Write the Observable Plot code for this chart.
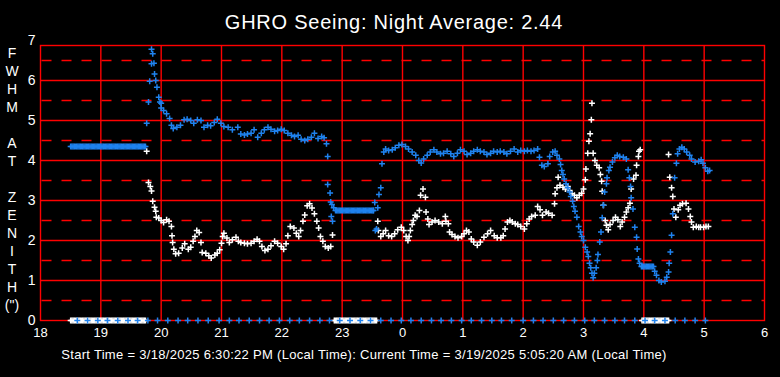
<!DOCTYPE html>
<html><head><meta charset="utf-8">
<script src="https://cdn.jsdelivr.net/npm/d3@7"></script>
<script src="https://cdn.jsdelivr.net/npm/@observablehq/plot@0.6"></script>
<style>
html,body{margin:0;padding:0;background:#000;}
#wrap{position:relative;width:780px;height:377px;overflow:hidden;background:#000;font-family:"Liberation Sans",Arial,sans-serif;color:#fff;}
#chart{position:absolute;left:0;top:0;}
#title{position:absolute;left:0;width:788px;top:11px;text-align:center;font-size:20px;letter-spacing:0.75px;line-height:22px;white-space:nowrap;}
#ylab{position:absolute;left:0;width:24px;top:44px;text-align:center;font-size:14px;line-height:18px;}
#caption{position:absolute;left:0;width:728px;top:347px;text-align:center;font-size:13px;letter-spacing:0.3px;line-height:15px;white-space:nowrap;}
</style></head><body>
<div id="wrap">
<div id="chart"></div>
<div id="title">GHRO Seeing: Night Average: 2.44</div>
<div id="ylab">F<br>W<br>H<br>M<br>&nbsp;<br>A<br>T<br>&nbsp;<br>Z<br>E<br>N<br>I<br>T<br>H<br>(")</div>
<div id="caption">Start Time = 3/18/2025 6:30:22 PM (Local Time): Current Time = 3/19/2025 5:05:20 AM (Local Time)</div>
</div>
<script>
// hours after 18:00 on 3/18 (values past 24 are the next morning)
const hourTicks = [18,19,20,21,22,23,24,25,26,27,28,29,30];
const hourGrid = [19,20,21,22,23,24,25,26,27,28,29];
const fwhmTicks = [0,1,2,3,4,5,6,7];
const fwhmLevels = [1,2,3,4,5,6];
const fwhmHalfLevels = [0.5,1.5,2.5,3.5,4.5,5.5,6.5];

// blue series [hour, FWHM]
const bluePts = [
[18.50,4.35],[18.54,4.35],[18.58,4.35],[18.62,4.35],[18.66,4.35],[18.70,4.35],[18.74,4.35],[18.78,4.35],
[18.82,4.35],[18.86,4.35],[18.90,4.35],[18.94,4.35],[18.98,4.35],[19.02,4.35],[19.06,4.35],[19.10,4.35],
[19.14,4.35],[19.18,4.35],[19.22,4.35],[19.26,4.35],[19.30,4.35],[19.34,4.35],[19.38,4.35],[19.42,4.35],
[19.46,4.35],[19.50,4.35],[19.54,4.35],[19.58,4.35],[19.62,4.35],[19.66,4.35],[19.70,4.35],[19.74,4.35],
[18.52,4.35],[18.56,4.35],[18.60,4.35],[18.64,4.35],[18.68,4.35],[18.72,4.35],[18.76,4.35],[18.80,4.35],
[18.84,4.35],[18.88,4.35],[18.92,4.35],[18.96,4.35],[19.00,4.35],[19.04,4.35],[19.08,4.35],[19.12,4.35],
[19.16,4.35],[19.20,4.35],[19.24,4.35],[19.28,4.35],[19.32,4.35],[19.36,4.35],[19.40,4.35],[19.44,4.35],
[19.48,4.35],[19.52,4.35],[19.56,4.35],[19.60,4.35],[19.64,4.35],[19.68,4.35],[19.72,4.35],
[19.76,4.93],[19.79,5.46],[19.81,5.98],[19.84,6.42],[19.84,6.78],[19.86,6.67],[19.88,6.43],[19.89,6.16],
[19.91,6.0],[19.93,5.83],[19.96,5.58],[19.98,5.46],[20.0,5.43],[20.0,5.31],[20.04,5.25],[20.09,5.17],
[20.14,5.05],[20.17,4.88],[20.2,4.8],[20.26,4.83],[20.32,4.88],[20.38,5.02],[20.43,5.03],[20.49,5.0],
[20.54,4.93],[20.6,5.02],[20.66,5.0],[20.71,4.83],[20.77,4.88],[20.82,4.87],[20.88,4.95],[20.93,5.03],
[20.99,4.93],[21.04,4.85],[21.11,4.83],[21.18,4.77],[21.27,4.83],[21.32,4.66],[21.38,4.64],[21.43,4.66],
[21.49,4.68],[21.54,4.77],[21.6,4.58],[21.66,4.68],[21.71,4.77],[21.77,4.83],[21.82,4.78],[21.88,4.73],
[21.93,4.75],[21.99,4.78],[22.04,4.75],[22.1,4.68],[22.16,4.63],[22.21,4.6],[22.27,4.63],[22.32,4.53],
[22.38,4.5],[22.43,4.53],[22.49,4.58],[22.54,4.68],[22.6,4.55],[22.66,4.6],[22.7,4.57],[22.74,4.42],
[22.76,4.1],[22.76,3.4],[22.8,3.19],[22.81,2.96],[22.82,2.6],[22.83,2.9],[22.84,2.48],[22.86,2.82],
[22.89,2.75],[22.93,2.75],[22.97,2.75],[23.01,2.75],[23.05,2.75],[23.09,2.75],[23.13,2.75],[23.17,2.75],
[23.21,2.75],[23.25,2.75],[23.29,2.75],[23.33,2.75],[23.37,2.75],[23.41,2.75],[23.45,2.75],[23.49,2.75],[23.52,2.75],
[22.91,2.75],[22.95,2.75],[22.99,2.75],[23.03,2.75],[23.07,2.75],[23.11,2.75],[23.15,2.75],[23.19,2.75],
[23.23,2.75],[23.27,2.75],[23.31,2.75],[23.35,2.75],[23.39,2.75],[23.43,2.75],[23.47,2.75],[23.51,2.75],
[23.54,2.95],[23.55,2.25],[23.57,2.29],[23.59,2.82],[23.61,3.15],[23.64,3.32],[23.66,3.92],[23.69,4.21],
[23.72,4.29],[23.77,4.25],[23.83,4.27],[23.88,4.32],[23.94,4.38],[23.99,4.4],[24.05,4.35],[24.1,4.29],
[24.16,4.21],[24.22,4.13],[24.27,4.0],[24.31,3.94],[24.35,4.04],[24.41,4.13],[24.46,4.21],[24.52,4.27],
[24.57,4.21],[24.63,4.17],[24.68,4.18],[24.74,4.23],[24.8,4.17],[24.85,4.1],[24.91,4.18],[24.96,4.27],
[25.02,4.23],[25.07,4.15],[25.13,4.18],[25.18,4.23],[25.24,4.27],[25.29,4.23],[25.35,4.21],[25.4,4.15],
[25.46,4.18],[25.51,4.23],[25.57,4.21],[25.62,4.23],[25.68,4.21],[25.73,4.17],[25.79,4.23],[25.85,4.29],
[25.91,4.21],[25.96,4.25],[26.02,4.23],[26.07,4.25],[26.13,4.23],[26.18,4.25],[26.24,4.29],[26.27,4.08],
[26.31,3.88],[26.35,3.85],[26.41,3.92],[26.44,4.1],[26.49,4.21],[26.53,4.23],[26.56,4.13],[26.6,4.04],
[26.62,3.9],[26.64,3.75],[26.66,3.65],[26.68,3.54],[26.71,3.42],[26.74,3.32],[26.77,3.21],[26.79,3.1],
[26.82,2.98],[26.84,2.85],[26.86,2.73],[26.89,2.58],[26.92,2.35],[26.95,2.21],[26.97,2.1],[27.0,2.0],
[27.03,1.83],[27.06,1.71],[27.08,1.6],[27.1,1.43],[27.12,1.32],[27.14,1.18],[27.16,1.07],[27.18,1.18],
[27.21,1.32],[27.23,1.5],[27.24,1.65],[27.27,1.96],[27.29,2.21],[27.31,2.57],[27.33,2.88],[27.35,3.21],
[27.38,3.42],[27.39,3.57],[27.42,3.75],[27.44,3.83],[27.48,3.96],[27.52,4.07],[27.56,4.13],[27.6,4.1],
[27.66,4.08],[27.71,4.04],[27.74,3.77],[27.76,3.57],[27.78,3.35],[27.79,3.07],[27.82,2.79],[27.85,2.33],
[27.88,2.08],[27.89,1.79],[27.91,1.54],[27.93,1.43],
[27.96,1.35],[28.0,1.35],[28.04,1.35],[28.08,1.35],[28.12,1.35],[28.16,1.35],
[27.98,1.35],[28.02,1.35],[28.06,1.35],[28.10,1.35],[28.14,1.35],
[28.18,1.23],[28.21,1.13],[28.25,1.0],[28.29,0.96],[28.35,0.98],[28.38,1.08],[28.41,1.21],[28.42,1.43],
[28.44,1.71],[28.46,2.13],[28.48,2.67],[28.51,3.57],[28.54,3.93],[28.56,4.17],[28.59,4.29],[28.63,4.33],
[28.67,4.29],[28.71,4.21],[28.76,4.13],[28.79,4.04],[28.85,3.96],[28.91,3.98],[28.95,4.02],[28.98,3.93],
[29.02,3.82],[29.06,3.73],[29.09,3.75]
];

// blue markers on the zero line (hours)
const blueZeroHours = [18.61,18.78,18.95,19.11,19.28,19.45,19.61,19.78,19.94,20.11,20.28,20.44,20.61,20.78,
20.96,21.13,21.29,21.46,21.63,21.79,21.96,22.13,22.29,22.46,22.63,22.79,22.96,23.13,23.3,23.47,23.64,23.81,
23.98,24.14,24.31,24.48,24.64,24.81,24.98,25.14,25.31,25.48,25.64,25.81,26.0,26.17,26.33,26.5,26.67,26.85,
27.02,27.18,27.35,27.52,27.68,27.85,28.02,28.18,28.35,28.52,28.68,28.85,29.02];

// white series [hour, FWHM]
const whitePts = [
[18.50,0],[18.54,0],[18.58,0],[18.62,0],[18.66,0],[18.70,0],[18.74,0],[18.78,0],[18.82,0],[18.86,0],
[18.90,0],[18.94,0],[18.98,0],[19.02,0],[19.06,0],[19.10,0],[19.14,0],[19.18,0],[19.22,0],[19.26,0],
[19.30,0],[19.34,0],[19.38,0],[19.42,0],[19.46,0],[19.50,0],[19.54,0],[19.58,0],[19.62,0],[19.66,0],
[19.70,0],[19.74,0],
[18.52,0],[18.56,0],[18.60,0],[18.64,0],[18.68,0],[18.72,0],[18.76,0],[18.80,0],[18.84,0],[18.88,0],
[18.92,0],[18.96,0],[19.00,0],[19.04,0],[19.08,0],[19.12,0],[19.16,0],[19.20,0],[19.24,0],[19.28,0],
[19.32,0],[19.36,0],[19.40,0],[19.44,0],[19.48,0],[19.52,0],[19.56,0],[19.60,0],[19.64,0],[19.68,0],[19.72,0],
[19.76,4.23],[19.79,3.45],[19.82,3.35],[19.84,3.24],[19.86,2.98],[19.89,2.83],[19.91,2.73],[19.92,2.58],
[19.96,2.56],[20.0,2.5],[20.04,2.45],[20.09,2.52],[20.13,2.48],[20.17,2.35],[20.18,2.12],[20.19,1.95],
[20.21,1.78],[20.24,1.67],[20.29,1.68],[20.35,1.81],[20.39,1.92],[20.45,1.78],[20.49,1.83],[20.53,1.98],
[20.56,2.1],[20.59,2.25],[20.63,2.2],[20.66,1.95],[20.68,1.7],[20.74,1.68],[20.79,1.62],[20.83,1.56],
[20.89,1.64],[20.93,1.68],[20.97,1.77],[21.0,1.93],[21.02,2.1],[21.04,2.18],[21.09,2.06],[21.13,1.95],
[21.18,2.02],[21.24,2.08],[21.28,1.98],[21.32,1.95],[21.38,1.93],[21.43,1.92],[21.49,1.93],[21.54,1.98],
[21.59,2.03],[21.63,1.98],[21.67,1.85],[21.72,1.75],[21.77,1.78],[21.82,1.87],[21.88,1.98],[21.93,1.93],
[21.99,1.85],[22.03,1.78],[22.07,1.92],[22.1,2.12],[22.14,2.35],[22.2,2.31],[22.24,2.18],[22.28,2.1],
[22.31,2.25],[22.35,2.48],[22.38,2.64],[22.42,2.87],[22.46,2.92],[22.5,2.81],[22.54,2.67],[22.58,2.48],
[22.61,2.31],[22.64,2.1],[22.68,1.98],[22.72,1.85],[22.77,1.81],[22.81,1.85],[22.84,2.14],
[22.87,0],[22.91,0],[22.95,0],[22.99,0],[23.03,0],[23.07,0],[23.11,0],[23.15,0],[23.19,0],[23.23,0],
[23.27,0],[23.31,0],[23.35,0],[23.39,0],[23.43,0],[23.47,0],[23.51,0],[23.55,0],
[22.89,0],[22.93,0],[22.97,0],[23.01,0],[23.05,0],[23.09,0],[23.13,0],[23.17,0],[23.21,0],[23.25,0],
[23.29,0],[23.33,0],[23.37,0],[23.41,0],[23.45,0],[23.49,0],[23.53,0],[23.57,0],
[23.59,2.48],[23.6,2.25],[23.64,2.1],[23.68,2.17],[23.72,2.25],[23.77,2.12],[23.82,2.1],[23.87,2.17],
[23.92,2.27],[23.98,2.33],[24.02,2.25],[24.06,2.1],[24.09,2.0],[24.11,2.1],[24.13,2.25],[24.16,2.4],
[24.18,2.5],[24.21,2.63],[24.24,2.6],[24.28,2.75],[24.3,3.13],[24.34,3.29],[24.38,3.08],[24.39,2.71],
[24.42,2.54],[24.44,2.4],[24.49,2.46],[24.54,2.5],[24.6,2.46],[24.66,2.42],[24.71,2.6],[24.72,2.48],
[24.76,2.42],[24.78,2.21],[24.82,2.15],[24.87,2.1],[24.92,2.07],[24.98,2.1],[25.02,2.17],[25.06,2.25],
[25.1,2.21],[25.14,2.04],[25.18,1.96],[25.24,1.88],[25.29,1.96],[25.35,2.08],[25.41,2.17],[25.46,2.25],
[25.52,2.12],[25.57,2.07],[25.63,2.07],[25.67,2.12],[25.7,2.29],[25.74,2.46],[25.78,2.5],[25.82,2.46],
[25.87,2.42],[25.91,2.4],[25.96,2.35],[26.02,2.29],[26.06,2.42],[26.1,2.54],[26.14,2.6],[26.2,2.63],
[26.24,2.85],[26.28,2.77],[26.32,2.63],[26.38,2.71],[26.42,2.68],[26.48,2.63],[26.52,2.92],[26.53,3.17],
[26.56,3.32],[26.58,3.58],[26.61,3.38],[26.66,3.33],[26.7,3.29],[26.74,3.35],[26.77,3.25],[26.81,3.17],
[26.85,3.13],[26.89,3.07],[26.93,3.13],[26.97,3.18],[27.0,3.29],[27.03,3.52],[27.04,3.79],[27.07,4.18],
[27.09,4.48],[27.11,4.67],[27.13,5.02],[27.14,5.43],[27.16,4.18],[27.19,4.0],[27.22,3.88],[27.26,3.82],
[27.28,3.65],[27.3,3.48],[27.31,3.23],[27.33,2.88],[27.36,2.5],[27.38,2.38],[27.41,2.27],[27.44,2.4],
[27.49,2.5],[27.53,2.58],[27.57,2.52],[27.61,2.35],[27.64,2.46],[27.68,2.58],[27.71,2.71],[27.74,2.82],
[27.77,2.93],[27.79,3.29],[27.83,3.54],[27.87,3.63],[27.88,3.88],[27.91,4.1],[27.92,4.23],[27.94,4.27],
[27.97,0],[28.01,0],[28.05,0],[28.09,0],[28.13,0],[28.17,0],[28.21,0],[28.25,0],[28.29,0],[28.33,0],
[28.37,0],[28.41,0],
[27.99,0],[28.03,0],[28.07,0],[28.11,0],[28.15,0],[28.19,0],[28.23,0],[28.27,0],[28.31,0],[28.35,0],[28.39,0],
[28.41,4.15],[28.43,3.58],[28.46,3.32],[28.48,3.1],[28.5,2.79],[28.53,2.58],[28.57,2.77],[28.6,2.88],
[28.64,2.92],[28.7,2.93],[28.74,2.79],[28.77,2.6],[28.79,2.46],[28.82,2.33],[28.87,2.35],[28.91,2.33],
[28.94,2.33],[28.99,2.33],[29.03,2.35],[29.07,2.35]
];

const blueColor = "#1f82ee";
const plus = {draw(ctx) { ctx.moveTo(-3, 0); ctx.lineTo(3, 0); ctx.moveTo(0, -3); ctx.lineTo(0, 3); }};
const blueZero = blueZeroHours.map(h => [h, 0]);

const chart = Plot.plot({
  width: 780, height: 377,
  marginLeft: 40, marginRight: 16, marginTop: 45, marginBottom: 57,
  style: {background: "#000", color: "#fff", fontFamily: "Liberation Sans, Arial, sans-serif", overflow: "visible"},
  x: {domain: [18, 30]},
  y: {domain: [0, 6.875]},
  marks: [
    Plot.ruleY(fwhmHalfLevels, {stroke: "#ff0000", strokeWidth: 1.4, strokeDasharray: "10,10", strokeDashoffset: -1.5}),
    Plot.ruleY(fwhmLevels, {stroke: "#ff0000", strokeWidth: 1.4}),
    Plot.ruleX(hourGrid, {stroke: "#ff0000", strokeWidth: 1.4}),
    Plot.frame({stroke: "#ff0000", strokeWidth: 1.4}),
    Plot.axisX(hourTicks, {tickSize: 0, tickPadding: 7, tickFormat: d => String(d % 24), fontSize: 13, fill: "#fff", label: null}),
    Plot.axisY(fwhmTicks, {tickSize: 0, tickPadding: 5, fontSize: 14, fill: "#fff", label: null}),
    Plot.dot(whitePts, {x: d => d[0], y: d => d[1], symbol: plus, stroke: "#fff", fill: "none", strokeWidth: 1.5}),
    Plot.dot(bluePts, {x: d => d[0], y: d => d[1], symbol: plus, stroke: blueColor, fill: "none", strokeWidth: 1.5}),
    Plot.dot(blueZero, {x: d => d[0], y: d => d[1], symbol: plus, stroke: blueColor, fill: "none", strokeWidth: 1.5})
  ]
});
document.getElementById("chart").appendChild(chart);
</script>
</body></html>
